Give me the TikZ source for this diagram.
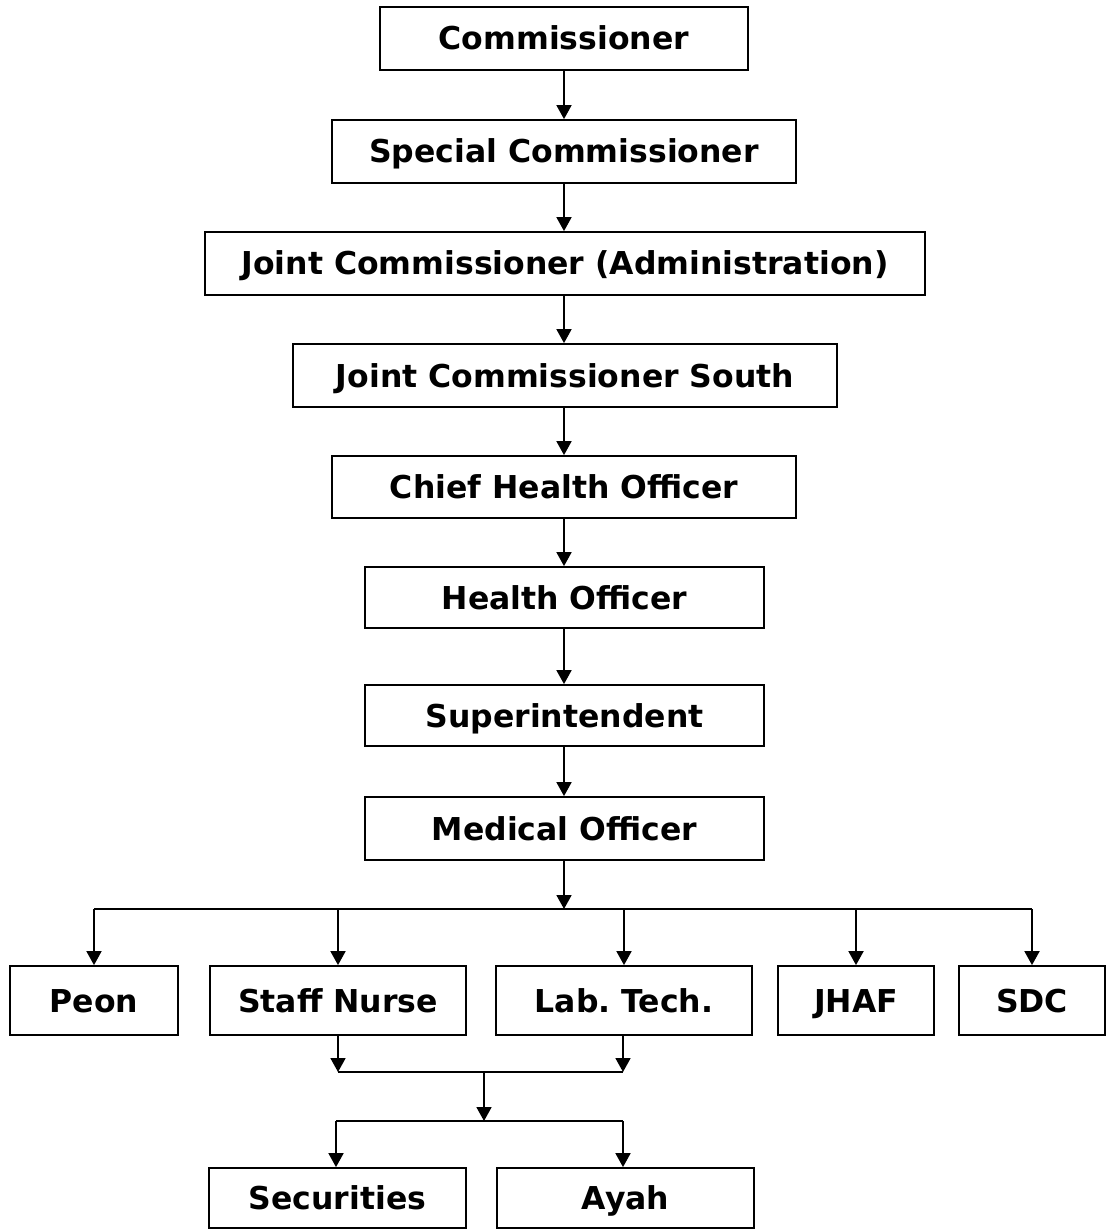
\documentclass[tikz,border=0pt]{standalone}
\usepackage{fontspec}
\setmainfont{DejaVu Sans}
\usetikzlibrary{arrows.meta,calc}
\begin{document}
\frenchspacing
\begin{tikzpicture}[x=1pt,y=-1pt,
  box/.style={draw=black,line width=1.8pt,inner sep=0pt,text height=23pt,text depth=0pt,font=\fontsize{31.5}{36}\selectfont\bfseries,anchor=center},
  conn/.style={line width=1.8pt},
  arr/.style={line width=1.8pt,-{Triangle[width=15pt,length=14pt]}}]
\useasboundingbox (0,0) rectangle (1109,1230);
\coordinate (axis) at (564,0);
\node[box,minimum width=368pt,minimum height=63pt] (com) at (564,38.5) {Commissioner};
\node[box,minimum width=464pt,minimum height=63pt] (spc) at (564,151.5) {Special Commissioner};
\node[box,minimum width=720pt,minimum height=63pt] (jca) at (565,263.5) {Joint Commissioner (Administration)};
\node[box,minimum width=544pt,minimum height=63pt] (jcs) at (565,375.5) {Joint Commissioner South};
\node[box,minimum width=464pt,minimum height=62pt] (cho) at (564,487) {Chief Health Officer};
\node[box,minimum width=399pt,minimum height=61pt] (ho) at (564.5,597.5) {Health Officer};
\node[box,minimum width=399pt,minimum height=61pt] (sup) at (564.5,715.5) {Superintendent};
\node[box,minimum width=399pt,minimum height=63pt] (mo) at (564.5,828.5) {Medical Officer};
\node[box,minimum width=168pt,minimum height=69pt] (peon) at (94,1000.5) {Peon};
\node[box,minimum width=256pt,minimum height=69pt] (sn) at (338,1000.5) {Staff Nurse};
\node[box,minimum width=256pt,minimum height=69pt] (lab) at (624,1000.5) {Lab. Tech.};
\node[box,minimum width=156pt,minimum height=69pt] (jhaf) at (856,1000.5) {JHAF};
\node[box,minimum width=146pt,minimum height=69pt] (sdc) at (1032,1000.5) {SDC};
\node[box,minimum width=257pt,minimum height=60pt] (sec) at (337.5,1198) {Securities};
\node[box,minimum width=257pt,minimum height=60pt] (ayah) at (625.5,1198) {Ayah};
\draw[arr] (com.south -| axis) -- (spc.north -| axis);
\draw[arr] (spc.south -| axis) -- (jca.north -| axis);
\draw[arr] (jca.south -| axis) -- (jcs.north -| axis);
\draw[arr] (jcs.south -| axis) -- (cho.north -| axis);
\draw[arr] (cho.south -| axis) -- (ho.north -| axis);
\draw[arr] (ho.south -| axis) -- (sup.north -| axis);
\draw[arr] (sup.south -| axis) -- (mo.north -| axis);
\coordinate (bus) at (564,909);
\coordinate (busL) at (94,909);
\coordinate (busR) at (1032,909);
\draw[arr] (mo.south -| bus) -- (bus);
\draw[conn] (busL) -- (busR);
\draw[arr] (busL) -- (peon.north);
\draw[arr] (sn.north |- bus) -- (sn.north);
\draw[arr] (lab.north |- bus) -- (lab.north);
\draw[arr] (jhaf.north |- bus) -- (jhaf.north);
\draw[arr] (busR) -- (sdc.north);
\coordinate (j1L) at (338,1072);
\coordinate (j1R) at (623,1072);
\coordinate (j1M) at (484,1072);
\coordinate (j2M) at (484,1121);
\coordinate (j2L) at (336,1121);
\coordinate (j2R) at (623,1121);
\draw[arr] (sn.south) -- (j1L);
\draw[arr] (lab.south -| j1R) -- (j1R);
\draw[conn] (j1L) -- (j1R);
\draw[arr] (j1M) -- (j2M);
\draw[conn] (j2L) -- (j2R);
\draw[arr] (j2L) -- (j2L |- sec.north);
\draw[arr] (j2R) -- (j2R |- ayah.north);
\end{tikzpicture}
\end{document}
